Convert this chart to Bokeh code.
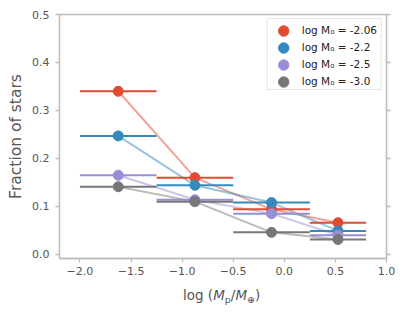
from bokeh.plotting import figure
from bokeh.layouts import column
from bokeh.models import (Range1d, FixedTicker, LinearAxis, CustomJSTickFormatter,
                          Legend, LegendItem, Div)
from bokeh.embed import file_html
from bokeh.resources import INLINE

# ---- data ----
bin_lo = [-2.0, -1.25, -0.5, 0.25]
bin_hi = [-1.25, -0.5, 0.25, 0.8]
bin_mid = [-1.625, -0.875, -0.125, 0.525]
series_labels = ["log M\u2080 = -2.06", "log M\u2080 = -2.2", "log M\u2080 = -2.5", "log M\u2080 = -3.0"]
frac_m206 = [0.340, 0.160, 0.094, 0.066]
frac_m22 = [0.247, 0.144, 0.108, 0.049]
frac_m25 = [0.165, 0.114, 0.085, 0.040]
frac_m30 = [0.141, 0.110, 0.046, 0.031]
series_colors = ["#E24A33", "#348ABD", "#988ED5", "#777777"]
x_ticks = [-2.0, -1.5, -1.0, -0.5, 0.0, 0.5, 1.0]
y_ticks = [0.0, 0.1, 0.2, 0.3, 0.4, 0.5]

all_series = [frac_m206, frac_m22, frac_m25, frac_m30]

FONT = "DejaVu Sans"
SPINE = "#bcbcbc"
TXT = "#555555"

p = figure(width=398, height=283, output_backend="svg", toolbar_location=None,
           x_range=Range1d(-2.2, 1.0), y_range=Range1d(-0.0085, 0.5),
           min_border_left=59, min_border_right=12, min_border_top=14, min_border_bottom=25,
           background_fill_color="white", border_fill_color="white")
p.grid.visible = False
p.outline_line_color = SPINE
p.outline_line_width = 1.3

fmt = CustomJSTickFormatter(code="return (tick < 0 ? '\\u2212' : '') + Math.abs(tick).toFixed(1);")

for ax, ticks in ((p.xaxis[0], x_ticks), (p.yaxis[0], y_ticks)):
    ax.ticker = FixedTicker(ticks=ticks)
    ax.formatter = fmt
    ax.axis_line_color = SPINE
    ax.axis_line_width = 1.3
    ax.major_tick_line_color = SPINE
    ax.major_tick_line_width = 1.3
    ax.major_tick_out = 4
    ax.major_tick_in = 0
    ax.minor_tick_line_color = None
    ax.major_label_text_font = FONT
    ax.major_label_text_font_size = "11px"
    ax.major_label_text_color = TXT

p.xaxis[0].major_label_standoff = 4
p.yaxis[0].major_label_standoff = 6
p.yaxis[0].axis_label = "Fraction of stars"
p.yaxis[0].axis_label_text_font = FONT
p.yaxis[0].axis_label_text_font_size = "15.5px"
p.yaxis[0].axis_label_text_font_style = "normal"
p.yaxis[0].axis_label_text_color = TXT
p.yaxis[0].axis_label_standoff = 4

right = LinearAxis(ticker=FixedTicker(ticks=y_ticks),
                   formatter=CustomJSTickFormatter(code="return '';"),
                   axis_line_color=SPINE, axis_line_width=1.3,
                   major_tick_line_color=SPINE, major_tick_line_width=1.3,
                   major_tick_out=4, major_tick_in=0, minor_tick_line_color=None,
                   major_label_standoff=0)
p.add_layout(right, "right")

# connecting lines
for vals, c in zip(all_series, series_colors):
    p.line(bin_mid, vals, line_color=c, line_width=2, line_alpha=0.5)

items = []
for vals, c, lab in zip(all_series, series_colors, series_labels):
    p.segment(x0=bin_lo, y0=vals, x1=bin_hi, y1=vals, line_color=c, line_width=2)
    p.scatter(bin_mid, vals, size=10, fill_color=c, line_color=c)
    # legend swatch: a round dot (renderer with no visible data)
    dot = p.ellipse(x=[float("nan")], y=[float("nan")], width=10, height=10,
                    fill_color=c, line_color=c)
    dot.glyph.width_units = "screen"
    dot.glyph.height_units = "screen"
    items.append(LegendItem(label=lab, renderers=[dot]))

legend = Legend(items=items, location="top_right", margin=4,
                padding=dict(left=9, right=4, top=4, bottom=1), spacing=3,
                glyph_width=13, glyph_height=13, label_height=14,
                label_standoff=12, label_text_font=FONT, label_text_font_size="10.5px",
                label_text_color="#222222", border_line_color="#cccccc",
                border_line_width=1, background_fill_alpha=0.85)
p.add_layout(legend)

# x axis label: log (M_p/M_⊕), as real HTML text under the plot
xlabel_html = (
    "<div style=\"padding-left:183px; padding-top:6px; font-family:'DejaVu Sans'; "
    "font-size:13.5px; line-height:13.5px; color:#555555; white-space:nowrap;\">"
    "log (<i>M</i><span style=\"font-size:9.5px; position:relative; top:3px;\">p</span>"
    "/<i>M</i><span style=\"font-size:9.5px; position:relative; top:3px;\">\u2295</span>)"
    "</div>"
)
xlabel = Div(text=xlabel_html, width=398, height=22, margin=0)

layout = column(p, xlabel, spacing=0)
open("out.html", "w").write(file_html(layout, INLINE))
